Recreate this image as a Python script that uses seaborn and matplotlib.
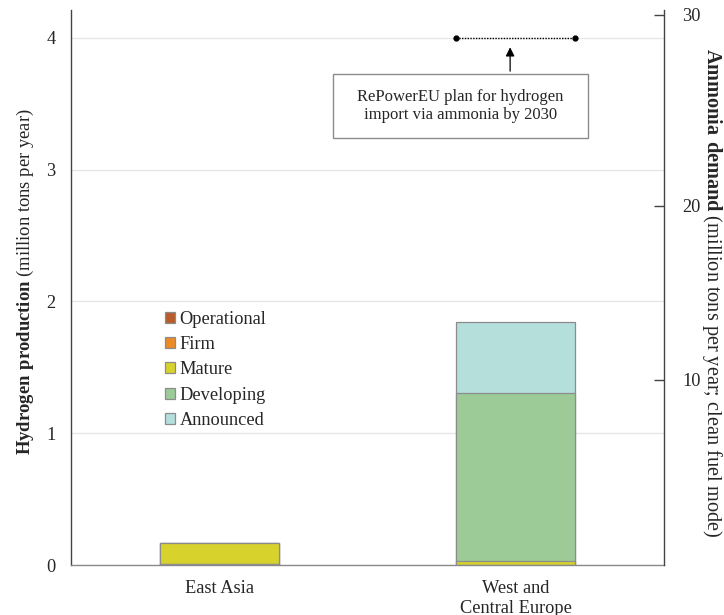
import matplotlib
matplotlib.use("Agg")
import matplotlib.pyplot as plt
from matplotlib.patches import Patch, Rectangle
import seaborn as sns
import pandas as pd
import numpy as np

# ---------------- data ----------------
regions = ["East Asia", "West and\nCentral Europe"]
stages = ["Operational", "Firm", "Mature", "Developing", "Announced"]
operational = [0.008, 0.0]
firm = [0.0, 0.0]
mature = [0.158, 0.03]
developing = [0.0, 1.275]
announced = [0.0, 0.54]
stage_colors = ["#b85c2c", "#ec8a26", "#d8d22c", "#9ccb98", "#b5dfdb"]

repower_target = 4.0          # million tons H2 per year (RePowerEU, via ammonia)
left_ticks = [0, 1, 2, 3, 4]
ammonia_tick_labels = ["10", "20", "30"]
ammonia_tick_pos_h2 = [1.404, 2.725, 4.175]   # where the ammonia ticks sit on the hydrogen scale

# ---------------- style ----------------
sns.set_style("white")
plt.rcParams["font.family"] = ["Liberation Serif", "DejaVu Serif"]
plt.rcParams["mathtext.fontset"] = "custom"
plt.rcParams["mathtext.rm"] = "Liberation Serif"
plt.rcParams["mathtext.bf"] = "Liberation Serif:bold"
FS = 13.2

fig = plt.figure(figsize=(7.24, 6.15), dpi=100)
ax = fig.add_axes([71 / 724, 50 / 615, 593 / 724, 555 / 615])

series = [operational, firm, mature, developing, announced]
cum = np.cumsum(np.array(series), axis=0)
rows = []
for si, st in enumerate(stages):
    for ri, rg in enumerate(regions):
        rows.append({"stage": st, "region": rg, "cum": cum[si, ri]})
df = pd.DataFrame(rows)

bar_w = 0.4
for si in range(len(stages) - 1, -1, -1):
    sub = df[df["stage"] == stages[si]]
    sns.barplot(data=sub, x="region", y="cum", order=regions, color=stage_colors[si],
                saturation=1, width=bar_w, edgecolor="#8c8c8c", linewidth=0.9,
                errorbar=None, ax=ax, zorder=3)

ax.set_xlim(-0.5, 1.5)
ax.set_ylim(0, 4.212)
ax.set_yticks(left_ticks)
ax.set_yticklabels([str(t) for t in left_ticks], fontsize=FS)
ax.tick_params(axis="y", length=0, pad=11)
ax.tick_params(axis="x", length=0, pad=11, labelsize=FS)
ax.set_xlabel("")
ax.grid(axis="y", color="#e6e6e6", linewidth=1, zorder=0)
ax.set_axisbelow(True)
for s in ["top", "right"]:
    ax.spines[s].set_visible(False)
ax.spines["left"].set_color("#444444")
ax.spines["left"].set_linewidth(1)
ax.spines["bottom"].set_color("#8a8a8a")
ax.spines["bottom"].set_linewidth(1)
ax.set_ylabel(r"$\bf{Hydrogen\ production}$ (million tons per year)", fontsize=13.4)
ax.yaxis.set_label_coords(-0.059, 0.51)

# RePowerEU target line over the European bar
x_eu = regions.index("West and\nCentral Europe")
ax.plot([x_eu - bar_w / 2, x_eu + bar_w / 2], [repower_target, repower_target],
        linestyle=(0, (1, 1)), color="black", linewidth=1, marker="o", markersize=3.5,
        zorder=5)
box_top = 3.727
box_bot = 3.241
ax.add_patch(Rectangle((0.383, box_bot), 0.859, box_top - box_bot, facecolor="white",
                       edgecolor="#8c8c8c", linewidth=1, zorder=6))
ax.text(0.8125, (box_top + box_bot) / 2,
        "RePowerEU plan for hydrogen\nimport via ammonia by 2030",
        ha="center", va="center", fontsize=12, linespacing=1.15, zorder=7)
ax.annotate("", xy=(0.981, repower_target - 0.05), xytext=(0.981, box_top),
            arrowprops=dict(arrowstyle="-|>", color="black", lw=0.9, mutation_scale=13),
            zorder=7)

# legend
handles = [Patch(facecolor=c, edgecolor="#8c8c8c", linewidth=0.9) for c in stage_colors]
ax.legend(handles, stages, loc="upper left", bbox_to_anchor=(0.158, 0.458), frameon=False,
          fontsize=FS, handlelength=0.55, handleheight=0.55, handletextpad=0.25,
          labelspacing=0.45, borderpad=0, borderaxespad=0)

# right axis: ammonia demand
ax2 = ax.twinx()
ax2.set_ylim(ax.get_ylim())
ax2.set_yticks(ammonia_tick_pos_h2)
ax2.set_yticklabels(ammonia_tick_labels, fontsize=FS)
ax2.tick_params(axis="y", direction="in", length=7, width=1, color="#444444", pad=13)
for s in ["top", "left", "bottom"]:
    ax2.spines[s].set_visible(False)
ax2.spines["right"].set_color("#444444")
ax2.spines["right"].set_linewidth(1)
ax2.set_ylabel(r"$\bf{Ammonia\ demand}$ (million tons per year; clean fuel mode)",
               fontsize=14.6, rotation=270, va="center")
ax2.yaxis.set_label_coords(1.081, 0.49)
ax2.grid(False)

fig.savefig("out.png", dpi=100)
